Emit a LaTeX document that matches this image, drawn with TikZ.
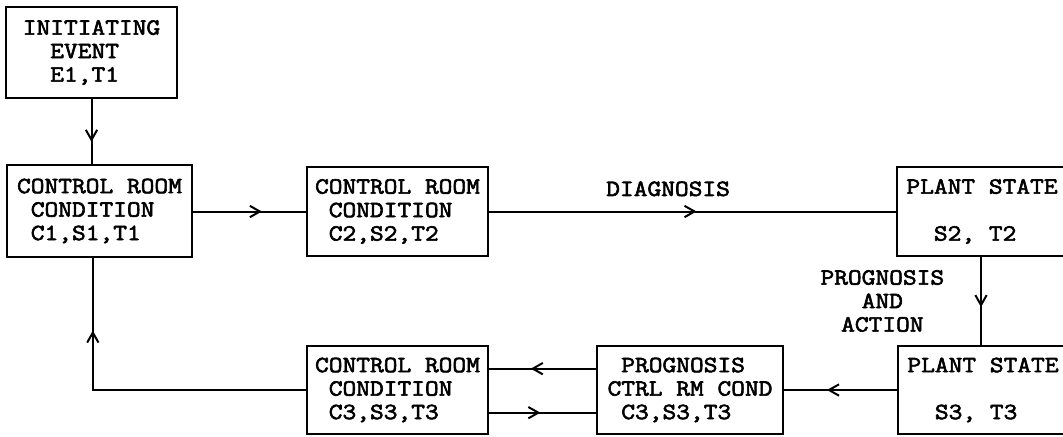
\documentclass[tikz,border=0pt]{standalone}
\usepackage{fontspec}
\setmonofont[FakeStretch=1.15,FakeBold=2.6]{Latin Modern Mono}
\usetikzlibrary{arrows.meta,decorations.markings}
\newcommand\indone{\phantom{X}}
\newcommand\indtwo{\phantom{XX}}
\begin{document}
\begin{tikzpicture}[x=0.75pt,y=-0.75pt,
  every node/.style={font=\ttfamily\fontsize{17.4}{17.6}\selectfont},
  box/.style={draw,line width=1.7pt,rectangle,inner sep=0pt,align=left},
  link/.style={line width=1.5pt},
  tipat/.style={postaction={decorate,decoration={markings,
      mark=at position #1 with {\arrow{Straight Barb[length=7.5pt,width=8.5pt,line width=1.5pt]}}}}}]
\useasboundingbox (0,0) rectangle (1063,436);

% boxes
\node[box,minimum width=128.25pt,minimum height=68.25pt] (init) at (91.5,52.5)
  {INITIATING\\\indtwo EVENT\\\indtwo E1,T1};
\node[box,minimum width=138.75pt,minimum height=69pt] (cr1) at (99.5,211)
  {CONTROL ROOM\\\indone CONDITION\\\indone C1,S1,T1};
\node[box,minimum width=135.75pt,minimum height=66.75pt] (cr2) at (397.5,211.5)
  {CONTROL ROOM\\\indone CONDITION\\\indone C2,S2,T2};
\node[box,minimum width=127.5pt,minimum height=66.75pt] (ps2) at (982,211.5)
  {PLANT STATE\\\mbox{}\\\indtwo S2, T2};
\node[box,minimum width=127.5pt,minimum height=66pt] (ps3) at (983,390)
  {PLANT STATE\\\mbox{}\\\indtwo S3, T3};
\node[box,minimum width=139.5pt,minimum height=66pt] (prog) at (690,390)
  {\indone PROGNOSIS\\CTRL RM COND\\\indone C3,S3,T3};
\node[box,minimum width=135.75pt,minimum height=66pt] (cr3) at (397.5,390)
  {CONTROL ROOM\\\indone CONDITION\\\indone C3,S3,T3};

% connectors
\draw[link,tipat=0.66] (init.south) -- (init.south |- cr1.north);
\draw[link,tipat=0.61] (cr1.east |- cr2.west) -- (cr2.west);
\draw[link,tipat=0.51] (cr2.east) -- (ps2.west)
  node[pos=0.44,yshift=17pt,align=center] {DIAGNOSIS};
\draw[link,tipat=0.57] ([xshift=-0.75pt]ps2.south) -- ([xshift=-0.75pt]ps2.south |- ps3.north)
  node[midway,xshift=-74pt,align=center] {PROGNOSIS\\AND\\ACTION};
\draw[link,tipat=0.62] (ps3.west) -- (prog.east |- ps3.west);
\draw[link,tipat=0.61] ([yshift=16pt]prog.west) -- ([yshift=16pt]cr3.east);
\draw[link,tipat=0.48] ([yshift=-17pt]cr3.east) -- ([yshift=-17pt]prog.west);
\draw[link,tipat=0.79] (cr3.west) -| ([xshift=-5pt]cr1.south);
\end{tikzpicture}
\end{document}
